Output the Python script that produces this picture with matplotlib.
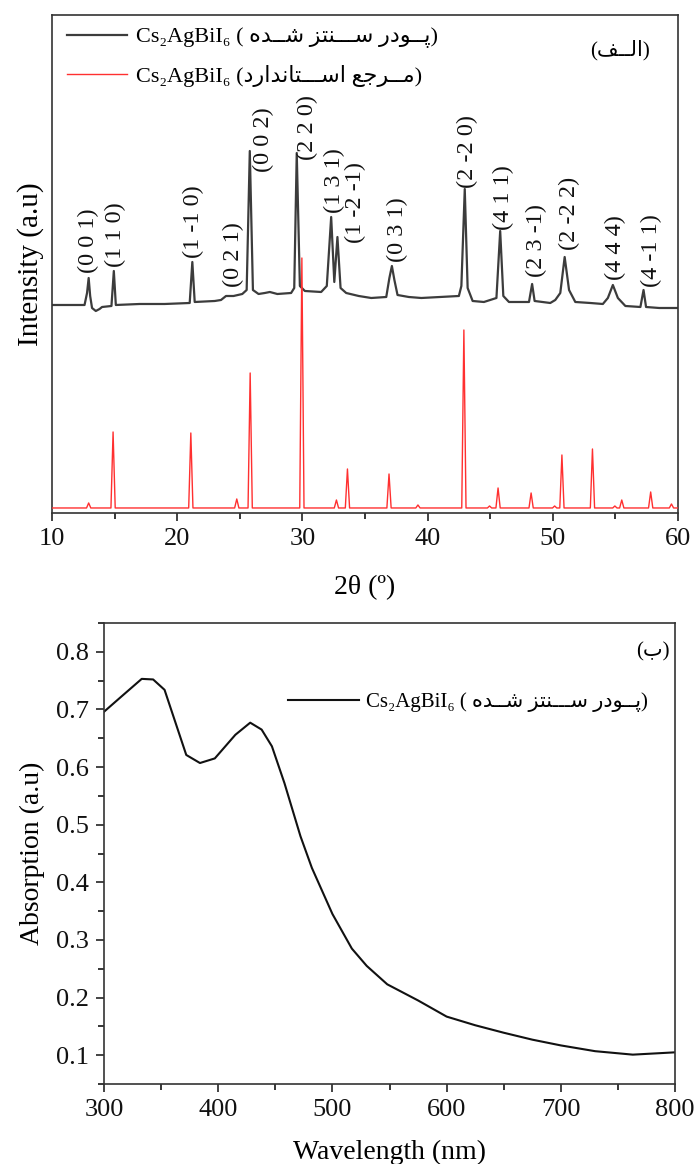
import matplotlib
matplotlib.use('Agg')
import matplotlib.pyplot as plt
from matplotlib.ticker import MultipleLocator, FormatStrFormatter
from matplotlib.lines import Line2D

plt.rcParams['font.family'] = ['Liberation Serif', 'DejaVu Sans']
plt.rcParams['font.size'] = 15

# ---------------- data: XRD reference (red) ----------------
ref_pos = [12.93, 14.88, 21.09, 24.76, 25.83, 29.96, 32.72, 33.60, 36.92, 39.23,
           42.90, 44.95, 45.63, 48.27, 50.15, 50.73, 53.17, 54.96, 55.51, 57.82, 59.48]
ref_int = [5, 76, 75, 9, 135, 250, 8, 39, 34, 3,
           178, 2, 20, 15, 2, 53, 59, 2, 8, 16, 4]

# ---------------- data: XRD synthesized powder (black) ----------------
sam_x = [10.0, 12.6, 12.8, 12.93, 13.05, 13.2, 13.5, 13.8, 14.0, 14.75, 14.94, 15.1,
         17.0, 19.0, 21.0, 21.21, 21.4, 23.0, 23.5, 23.9, 24.5, 25.2, 25.55, 25.8,
         26.05, 26.5, 27.0, 27.4, 28.0, 29.1, 29.35, 29.55, 29.8, 30.2, 31.5, 31.95,
         32.3, 32.55, 32.8, 33.05, 33.5, 34.5, 35.5, 36.7, 36.95, 37.15, 37.35, 37.6,
         38.5, 39.5, 41.0, 42.5, 42.7, 42.97, 43.2, 43.6, 44.5, 45.5, 45.8, 46.05,
         46.5, 48.1, 48.35, 48.55, 49.8, 50.2, 50.6, 50.95, 51.3, 51.8, 53.0, 54.0,
         54.4, 54.8, 55.2, 55.8, 57.0, 57.25, 57.45, 58.5, 60.0]
sam_y = [203, 203, 215, 230, 212, 200, 197, 199, 201, 202, 237, 203,
         204, 204, 205, 246, 206, 207, 208, 212, 212, 214, 218, 357,
         218, 214, 215, 216, 214, 215, 220, 355, 222, 217, 216, 222,
         291, 226, 271, 220, 215, 212, 210, 211, 230, 242, 228, 213,
         211, 210, 211, 212, 222, 319, 220, 207, 206, 210, 277, 212,
         206, 206, 224, 207, 205, 208, 215, 251, 218, 206, 205, 204,
         210, 223, 210, 202, 201, 218, 201, 200, 200]

hkl_labels = ['(0 0 1)', '(1 1 0)', '(1 -1 0)', '(0 2 1)', '(0 0 2)', '(2 2 0)', '(1 3 1)',
              '(1 -2 -1)', '(0 3 1)', '(2 -2 0)', '(4 1 1)', '(2 3 -1)', '(2 -2 2)',
              '(4 4 4)', '(4 -1 1)']
hkl_x = [12.93, 15.1, 21.3, 24.5, 26.9, 30.4, 32.6, 34.2, 37.6, 43.2, 46.1, 48.7, 51.3, 55.0, 57.9]
hkl_y = [235, 241, 250, 221, 336, 348, 295, 265, 246, 320, 278, 231, 258, 228, 221]

# ---------------- data: UV-Vis absorption ----------------
wl = [300, 315, 333, 343, 353, 372, 384, 397, 415, 428, 438, 447, 458, 472, 482,
      500, 517, 530, 548, 575, 600, 625, 650, 675, 700, 730, 763, 800]
absb = [0.696, 0.722, 0.753, 0.752, 0.734, 0.621, 0.607, 0.615, 0.656, 0.677, 0.665,
        0.636, 0.572, 0.480, 0.425, 0.345, 0.285, 0.255, 0.223, 0.195, 0.167, 0.152,
        0.139, 0.127, 0.117, 0.107, 0.101, 0.105]

# ---------------- text (visual order, Arabic presentation forms) ----------------
w_shode = '\uFEE9\uFEAA\u0640\u0640\uFEB7'
w_santez = '\uFEB0\uFE98\uFEE8\u0640\u0640\u0640\uFEB3'
w_pudr = '\uFEAD\uFEA9\uFEEE\u0640\u0640\uFB58'
w_standard = '\uFEA9\uFEAD\uFE8D\uFEAA\uFEE7\uFE8E\uFE98\u0640\u0640\u0640\uFEB3\uFE8D'
w_marja = '\uFECA\uFE9F\uFEAE\u0640\u0640\uFEE3'
w_alef = '\uFED2\u0640\u0640\uFEDF\uFE8D'
w_be = '\uFE8F'

formula = 'Cs\u2082AgBiI\u2086'
lab_sample = formula + ' ( ' + w_shode + ' ' + w_santez + ' ' + w_pudr + ')'
lab_ref = formula + ' (' + w_standard + ' ' + w_marja + ')'
panel_a = '(' + w_alef + ')'
panel_b = '(' + w_be + ')'

fam = ['Liberation Serif', 'DejaVu Sans']
spine_col = '#333333'
TICK = 19
AXL = 20

fig = plt.figure(figsize=(6.94, 11.64), dpi=100)

# ================= top panel =================
ax1 = fig.add_axes([0.0749, 0.5593, 0.902, 0.4278])

rx, ry = [10.0], [0.0]
hw = 0.17
for p, h in zip(ref_pos, ref_int):
    rx += [p - hw, p, p + hw]
    ry += [0.0, h, 0.0]
rx.append(60.0)
ry.append(0.0)

ax1.plot(sam_x, sam_y, color='#3c3c3c', lw=1.6, zorder=2)
ax1.plot(rx, ry, color='#ff3030', lw=1.0, zorder=3)

for t, x, y in zip(hkl_labels, hkl_x, hkl_y):
    ax1.text(x, y, t, rotation=90, ha='center', va='bottom', fontsize=17.5,
             family=fam, color='#111111')

ax1.set_xlim(10, 60)
ax1.set_ylim(-5, 493)
ax1.set_yticks([])
ax1.xaxis.set_major_locator(MultipleLocator(10))
ax1.xaxis.set_minor_locator(MultipleLocator(5))
ax1.tick_params(axis='x', which='major', direction='out', length=6, width=1.1,
                labelsize=TICK, colors='#111111', pad=5)
ax1.tick_params(axis='x', which='minor', direction='out', length=4, width=1.1)
for s in ax1.spines.values():
    s.set_color(spine_col)
    s.set_linewidth(1.2)
ax1.set_ylabel('Intensity (a.u)', fontsize=21, labelpad=6)
ax1.set_xlabel('2\u03b8 (\u00ba)', fontsize=AXL, labelpad=18)

h1 = [Line2D([], [], color='#3c3c3c', lw=1.6), Line2D([], [], color='#ff3030', lw=1.0)]
ax1.legend(h1, [lab_sample, lab_ref], loc='upper left', bbox_to_anchor=(0.024, 0.976),
           frameon=False, borderpad=0, borderaxespad=0, handlelength=2.7,
           handletextpad=0.4, labelspacing=0.75, prop={'family': fam, 'size': 16})
ax1.text(0.907, 0.93, panel_a, transform=ax1.transAxes, ha='center', va='center',
         family=fam, fontsize=15)

# ================= bottom panel =================
ax2 = fig.add_axes([0.1499, 0.0687, 0.8228, 0.3961])
ax2.plot(wl, absb, color='#111111', lw=1.5)
ax2.set_xlim(300, 800)
ax2.set_ylim(0.05, 0.85)
ax2.xaxis.set_major_locator(MultipleLocator(100))
ax2.xaxis.set_minor_locator(MultipleLocator(50))
ax2.yaxis.set_major_locator(MultipleLocator(0.1))
ax2.yaxis.set_minor_locator(MultipleLocator(0.05))
ax2.yaxis.set_major_formatter(FormatStrFormatter('%.1f'))
ax2.tick_params(which='major', direction='out', length=6, width=1.1, labelsize=TICK,
                colors='#111111', pad=5)
ax2.tick_params(which='minor', direction='out', length=4, width=1.1)
for s in ax2.spines.values():
    s.set_color(spine_col)
    s.set_linewidth(1.2)
ax2.set_ylabel('Absorption (a.u)', fontsize=AXL, labelpad=8)
ax2.set_xlabel('Wavelength (nm)', fontsize=AXL, labelpad=13)

h2 = [Line2D([], [], color='#111111', lw=1.5)]
ax2.legend(h2, [lab_sample], loc='upper left', bbox_to_anchor=(0.322, 0.85),
           frameon=False, borderpad=0, borderaxespad=0, handlelength=3.4,
           handletextpad=0.35, prop={'family': fam, 'size': 15})
ax2.text(0.962, 0.937, panel_b, transform=ax2.transAxes, ha='center', va='center',
         family=fam, fontsize=15)

fig.savefig('out.png', dpi=100)
